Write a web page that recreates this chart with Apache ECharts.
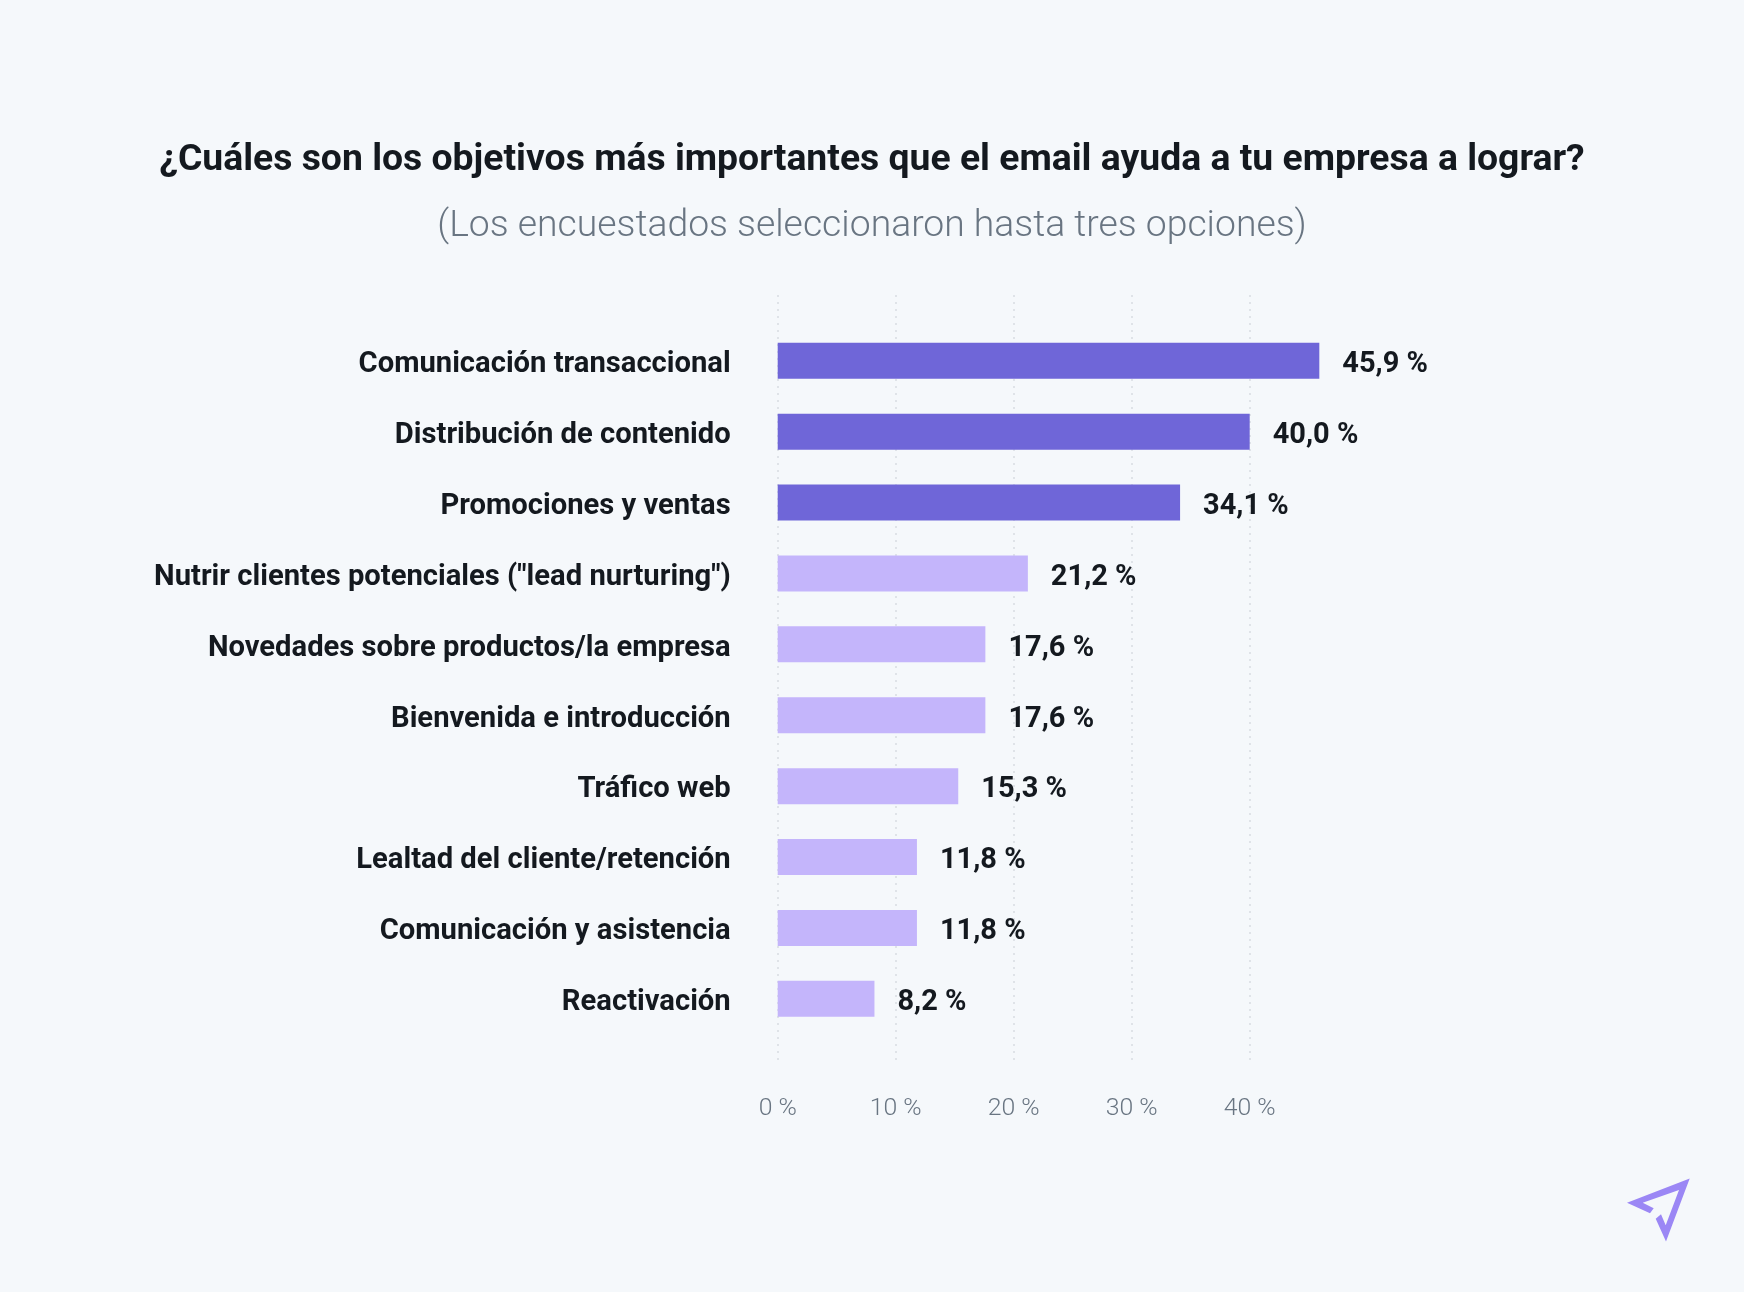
<!DOCTYPE html>
<html>
<head>
<meta charset="utf-8">
<style>
    html, body { margin: 0; padding: 0; background: #f5f8fb; }
    #chart { width: 1744px; height: 1292px; }
</style>
<script src="https://cdn.jsdelivr.net/npm/echarts@6/dist/echarts.min.js"></script>
</head>
<body>
<div id="chart"></div>
<script>
var titleText = '¿Cuáles son los objetivos más importantes que el email ayuda a tu empresa a lograr?';
var subtitleText = '(Los encuestados seleccionaron hasta tres opciones)';
var categories = [
    'Comunicación transaccional',
    'Distribución de contenido',
    'Promociones y ventas',
    'Nutrir clientes potenciales ("lead nurturing")',
    'Novedades sobre productos/la empresa',
    'Bienvenida e introducción',
    'Tráfico web',
    'Lealtad del cliente/retención',
    'Comunicación y asistencia',
    'Reactivación'
];
var values = [45.9, 40.0, 34.1, 21.2, 17.6, 17.6, 15.3, 11.8, 11.8, 8.2];
var darkBars = 3;

var fontName = 'Roboto';
var myChart = echarts.init(document.getElementById('chart'), null, {renderer: 'canvas'});

myChart.setOption({
    backgroundColor: '#f5f8fb',
    animation: false,
    title: [
        {
            text: titleText, left: 'center', top: 137,
            textStyle: {fontFamily: fontName, fontSize: 37.35, fontWeight: 700, color: '#14191f'}
        },
        {
            text: subtitleText, left: 'center', top: 203,
            textStyle: {fontFamily: fontName, fontSize: 37.3, fontWeight: 300, color: '#697582'}
        }
    ],
    // first grid holds the bars, second only the longer gridlines and the tick labels
    grid: [
        {left: 777.7, top: 325.3, width: 590, height: 709},
        {left: 777.7, top: 295, width: 590, height: 768}
    ],
    xAxis: [
        {
            gridIndex: 0, type: 'value', min: 0, max: 50, interval: 10,
            axisLine: {show: false}, axisTick: {show: false},
            axisLabel: {show: false}, splitLine: {show: false}
        },
        {
            gridIndex: 1, type: 'value', min: 0, max: 50, interval: 10,
            axisLine: {show: false}, axisTick: {show: false},
            axisLabel: {
                margin: 33, showMaxLabel: false,
                fontFamily: fontName, fontSize: 24.8, fontWeight: 300, color: '#697582',
                formatter: '{value} %'
            },
            splitLine: {
                show: true, showMaxLine: false,
                lineStyle: {color: '#dfe3e8', width: 2, type: [2, 5]}
            }
        }
    ],
    yAxis: [
        {
            gridIndex: 0, type: 'category', inverse: true, data: categories,
            axisLine: {show: false}, axisTick: {show: false},
            axisLabel: {
                margin: 47, verticalAlign: 'top', lineHeight: 8,
                fontFamily: fontName, fontSize: 29.2, fontWeight: 700, color: '#14191f'
            }
        },
        {
            gridIndex: 1, type: 'category', data: [], show: false
        }
    ],
    series: [
        {
            type: 'bar', xAxisIndex: 1, yAxisIndex: 1, data: [], silent: true
        },
        {
            type: 'bar', xAxisIndex: 0, yAxisIndex: 0, z: 3,
            barWidth: 36,
            data: values,
            itemStyle: {
                color: function (p) {
                    return p.dataIndex < darkBars ? '#6f66d8' : '#c4b5fb';
                }
            },
            label: {
                show: true, position: 'right', distance: 23, offset: [0, 4],
                fontFamily: fontName, fontSize: 29, fontWeight: 700, color: '#14191f',
                formatter: function (p) {
                    return p.value.toFixed(1).replace('.', ',') + ' %';
                }
            }
        }
    ],
    graphic: [
        {
            // logo
            type: 'polygon', silent: true,
            shape: {
                points: [
                    [1627, 1202.7], [1689.7, 1178.5], [1666, 1241.5], [1655.7, 1218.7], [1661, 1214.3],
                    [1665.7, 1225.3], [1679, 1190], [1642.7, 1202.7], [1653.7, 1208.3], [1650, 1213.3]
                ]
            },
            style: {fill: '#9b87f5'}
        }
    ]
});
</script>
</body>
</html>
